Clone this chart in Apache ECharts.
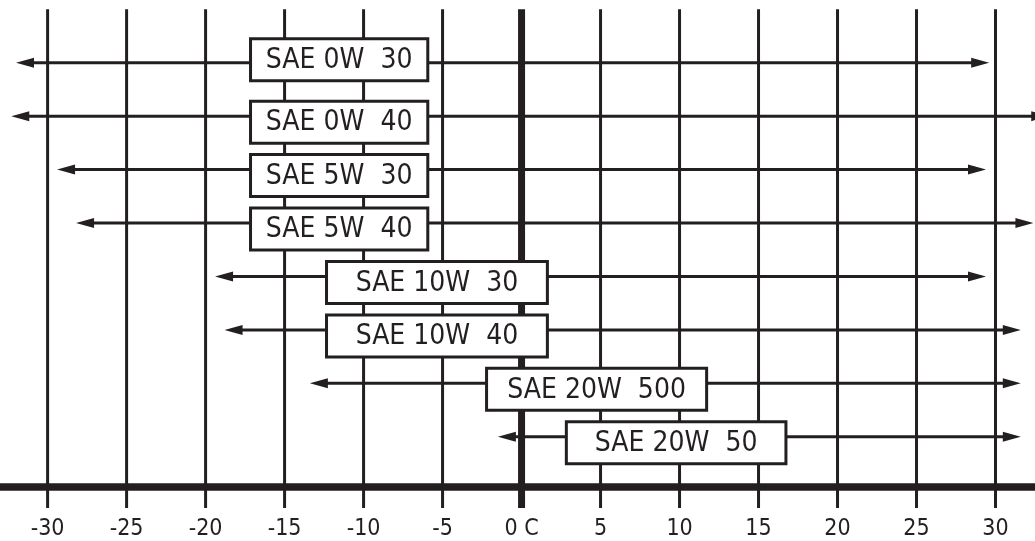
<!DOCTYPE html>
<html>
<head>
<meta charset="utf-8">
<script src="https://cdn.jsdelivr.net/npm/echarts@6/dist/echarts.min.js"></script>
<style>
html,body{margin:0;padding:0;background:#fff;}
#chart{width:1035px;height:541px;}
</style>
</head>
<body>
<div id="chart"></div>
<script>
// ---- data (temperatures in °C) ----
const grades     = ['SAE 0W  30', 'SAE 0W  40', 'SAE 5W  30', 'SAE 5W  40', 'SAE 10W  30', 'SAE 10W  40', 'SAE 20W  500', 'SAE 20W  50'];
const rowIndex   = [1, 2, 3, 4, 5, 6, 7, 8];
const lowTemp    = [-32.0, -32.3, -29.4, -28.2, -19.4, -18.8, -13.4, -1.5];
const highTemp   = [29.6, 33.4, 29.4, 32.4, 29.4, 31.6, 31.6, 31.6];
const labelFrom  = [-17.25, -17.25, -17.25, -17.25, -12.44, -12.44, -2.31, 2.74];
const labelTo    = [-5.84, -5.84, -5.84, -5.84, 1.73, 1.73, 11.81, 16.83];
const tickValues = [-30, -25, -20, -15, -10, -5, 0, 5, 10, 15, 20, 25, 30];
const tickLabels = ['-30', '-25', '-20', '-15', '-10', '-5', '0 C', '5', '10', '15', '20', '25', '30'];

const INK = '#231f20';
const FONT = '"DejaVu Sans Condensed", "Open Sans", "DejaVu Sans", sans-serif';
const Y_MIN = 0, Y_MAX = 8.94;
const TICK_LEN = 21;

const rows = grades.map((g, i) => [lowTemp[i], highTemp[i], rowIndex[i], labelFrom[i], labelTo[i]]);

function renderRow(params, api) {
  const i = params.dataIndex;
  const lo = api.coord([api.value(0), api.value(2)]);
  const hi = api.coord([api.value(1), api.value(2)]);
  const y = lo[1];
  const bl = api.coord([api.value(3), api.value(2)])[0];
  const br = api.coord([api.value(4), api.value(2)])[0];
  const AL = 18, AH = 5;
  const cy = y + (i === 0 ? -3 : 6);
  return {
    type: 'group',
    children: [
      { type: 'line', shape: { x1: lo[0] + AL - 3, y1: y, x2: hi[0] - AL + 3, y2: y },
        style: { stroke: INK, lineWidth: 3 } },
      { type: 'polygon', shape: { points: [[lo[0], y], [lo[0] + AL, y - AH], [lo[0] + AL, y + AH]] },
        style: { fill: INK } },
      { type: 'polygon', shape: { points: [[hi[0], y], [hi[0] - AL, y - AH], [hi[0] - AL, y + AH]] },
        style: { fill: INK } },
      { type: 'rect', shape: { x: bl + 1.5, y: cy - 21, width: br - bl - 3, height: 42 },
        style: { fill: '#fff', stroke: INK, lineWidth: 3 } },
      { type: 'text', x: (bl + br) / 2, y: cy + 1,
        style: { text: grades[i], fill: INK, font: '28px ' + FONT,
                 align: 'center', verticalAlign: 'middle',
                 textAlign: 'center', textVerticalAlign: 'middle' } }
    ]
  };
}

// vertical grid lines: from the top of the plot down through the axis (tick part)
function renderGridLine(params, api) {
  const v = api.value(0);
  const top = api.coord([v, Y_MIN]);
  const bot = api.coord([v, Y_MAX]);
  return { type: 'line', shape: { x1: top[0], y1: top[1], x2: top[0], y2: bot[1] + TICK_LEN },
           style: { stroke: INK, lineWidth: v === 0 ? 7 : 3 } };
}

const chart = echarts.init(document.getElementById('chart'));
chart.setOption({
  animation: false,
  grid: { left: -31.39, right: -39.5, top: 9.27, bottom: 54, containLabel: false, outerBoundsMode: 'none' },
  xAxis: {
    type: 'value', min: -35, max: 35, interval: 5,
    axisLine: { onZero: false, lineStyle: { color: INK, width: 7.5 } },
    axisTick: { show: false },
    splitLine: { show: false },
    axisLabel: {
      color: INK, fontSize: 23, fontFamily: FONT, margin: 31,
      formatter: v => { const k = tickValues.indexOf(v); return k >= 0 ? tickLabels[k] : ''; }
    }
  },
  yAxis: { type: 'value', inverse: true, min: Y_MIN, max: Y_MAX, show: false },
  series: [
    { type: 'custom', z: 5, clip: false, data: tickValues.map(v => [v]), renderItem: renderGridLine },
    { type: 'custom', z: 7, clip: false, data: rows, renderItem: renderRow }
  ]
});
</script>
</body>
</html>
